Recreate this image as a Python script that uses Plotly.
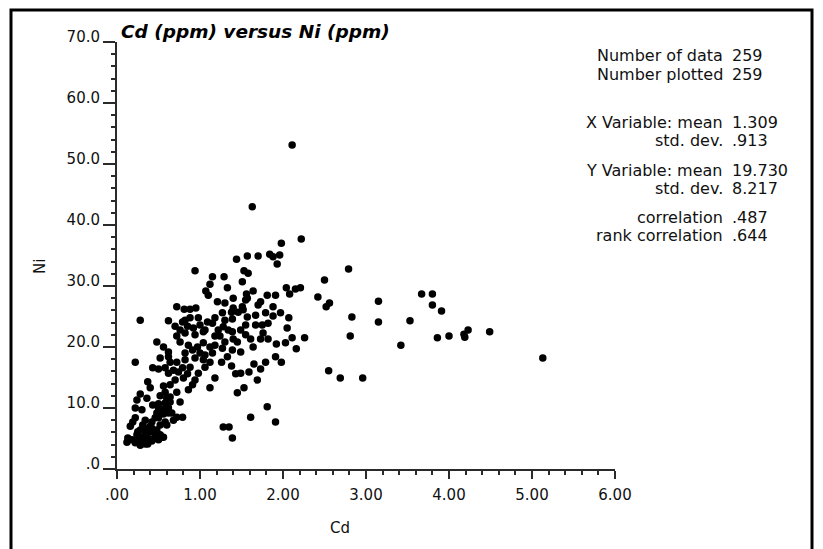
import plotly.graph_objects as go

# ---- data (Cd ppm, Ni ppm) ----
CD = [
    2.11, 1.63, 2.22, 1.98, 1.44, 1.57, 1.70, 1.84, 1.88, 1.96, 1.93,
    0.94, 1.53, 1.58, 1.51, 1.15, 1.29, 1.12, 1.07, 1.10, 1.33, 1.64, 1.56, 1.57, 2.04, 2.15, 2.21, 2.08,
    1.81, 1.91, 1.40, 1.21, 1.30, 1.73, 1.70, 1.88, 2.50, 2.79, 2.42, 2.56, 2.52, 3.15, 3.67, 3.80, 3.80, 3.91,
    0.72, 0.81, 0.88, 0.95, 0.28, 0.62, 0.82, 0.70, 0.76, 0.85, 0.92, 1.00, 1.09, 1.15, 1.40, 1.51, 1.52,
    1.27, 1.38, 1.46, 1.79, 1.97, 1.39, 1.57, 1.88, 2.07, 2.83,
    1.28, 1.55, 1.82, 1.22, 1.34, 1.39, 2.05, 1.24, 1.55, 1.76, 0.72, 0.82, 0.94, 1.04, 0.48, 0.56, 0.62,
    0.76, 0.86, 0.97, 1.04, 1.12, 1.40, 1.45, 1.61, 1.73, 1.82, 2.11, 2.26, 2.03, 1.27, 1.39, 1.64, 2.16,
    1.92, 2.81, 3.15, 3.53, 4.23, 4.18, 4.19, 4.49, 4.00, 3.86, 3.42,
    0.52, 0.82, 1.00, 1.15, 0.22, 0.62, 0.72, 0.82, 0.94, 1.04, 1.12, 1.26, 1.38, 1.43, 1.49, 1.59, 1.65,
    1.73, 1.79, 1.91, 1.98, 0.43, 0.50, 0.58, 0.68, 0.79, 0.88, 0.98, 0.85, 0.62, 0.80, 0.70, 0.37, 1.18,
    1.69, 2.55, 2.69, 2.96, 5.13,
    0.40, 0.56, 0.91, 1.12, 0.28, 0.58, 0.72, 0.24, 0.36, 0.60, 0.76, 0.50, 0.58, 0.64, 0.22, 0.50, 0.56,
    0.62, 0.48, 0.56, 0.66, 0.72, 0.79, 0.50, 0.58, 0.68, 0.22, 0.19, 0.16, 0.42, 0.52, 0.60, 0.31, 0.36,
    0.42, 0.48, 0.28, 0.34, 0.40, 0.46, 0.52, 0.56, 0.13, 0.24, 0.30, 0.37, 0.43, 0.54, 0.25, 0.34, 0.42,
    0.50, 0.28, 0.34,
    1.53, 1.45, 1.81, 1.61, 1.91, 1.28, 1.35, 1.39,
    0.18, 0.22, 0.31, 0.37, 0.46, 0.40, 0.34, 0.46, 0.52, 0.62, 0.64, 0.52, 0.43, 0.30, 0.25, 0.12,
    0.88, 0.98, 1.06, 1.18, 1.30, 1.49, 1.18, 1.06, 0.91, 1.49, 1.33, 1.67, 1.75, 0.64, 0.74, 1.06,
    0.94, 0.86, 0.64, 1.55, 1.67, 0.79, 1.18, 1.30,
]
NI = [
    53.1, 43.0, 37.7, 37.0, 34.4, 34.9, 34.9, 35.2, 34.8, 35.1, 33.6,
    32.5, 32.5, 32.1, 30.7, 31.5, 31.5, 30.3, 29.2, 28.5, 29.7, 29.2, 28.7, 28.0, 29.7, 29.5, 29.7, 28.7,
    28.5, 28.5, 28.0, 27.4, 27.2, 27.4, 26.9, 26.6, 31.0, 32.8, 28.2, 27.2, 26.6, 27.5, 28.7, 28.7, 26.9, 25.9,
    26.6, 26.2, 26.2, 26.4, 24.4, 24.3, 24.4, 23.4, 22.8, 23.4, 23.1, 23.6, 24.1, 23.9, 26.4, 26.6, 26.1,
    25.6, 25.7, 25.7, 25.6, 25.6, 24.6, 24.9, 25.1, 24.8, 24.9,
    23.3, 23.6, 23.9, 22.8, 22.8, 22.5, 23.1, 21.8, 22.0, 22.3, 21.8, 22.3, 22.0, 22.5, 20.8, 20.0, 19.2,
    20.8, 20.3, 20.0, 20.7, 20.0, 21.3, 20.8, 21.3, 21.3, 21.3, 21.5, 21.5, 20.7, 19.8, 19.5, 20.0, 19.7,
    20.5, 21.8, 24.1, 24.3, 22.8, 22.1, 21.6, 22.5, 21.8, 21.5, 20.3,
    18.2, 19.0, 19.0, 19.0, 17.5, 18.4, 17.5, 17.9, 18.2, 17.9, 17.5, 17.5, 16.9, 15.6, 15.7, 15.9, 17.2,
    16.4, 17.5, 18.4, 17.5, 16.6, 16.4, 16.6, 16.2, 16.6, 16.7, 15.7, 15.6, 15.7, 14.9, 14.6, 14.3, 14.9,
    14.6, 16.1, 14.9, 14.9, 18.2,
    13.3, 13.6, 13.8, 13.3, 12.3, 12.6, 12.6, 11.3, 11.6, 11.6, 11.0, 10.7, 10.8, 11.0, 10.0, 10.0, 9.8,
    10.0, 9.2, 9.0, 9.2, 8.5, 8.5, 8.4, 7.7, 8.0, 8.4, 7.7, 7.0, 7.7, 7.2, 7.2, 7.2, 6.7,
    6.7, 6.4, 6.4, 6.1, 6.1, 5.9, 5.6, 5.2, 5.1, 5.6, 5.2, 5.1, 4.9, 5.2, 4.6, 4.4, 4.6,
    4.8, 3.9, 4.1,
    13.3, 12.5, 10.2, 8.5, 7.7, 6.9, 6.9, 5.1,
    4.8, 4.3, 4.9, 4.1, 5.2, 7.0, 8.0, 8.4, 9.3, 9.2, 11.8, 12.0, 10.5, 9.7, 6.1, 4.4,
    24.8, 24.8, 22.8, 21.8, 20.8, 22.8, 20.3, 18.7, 19.5, 19.2, 18.4, 23.6, 23.6, 17.5, 15.9, 16.7,
    14.6, 13.0, 13.8, 27.7, 25.2, 24.1, 24.8, 24.4,
]

X_TICK_LABELS = [".00", "1.00", "2.00", "3.00", "4.00", "5.00", "6.00"]
Y_TICK_LABELS = [".0", "10.0", "20.0", "30.0", "40.0", "50.0", "60.0", "70.0"]

TITLE = "Cd (ppm) versus Ni (ppm)"
X_TITLE = "Cd"
Y_TITLE = "Ni"

STAT_LABELS = ["Number of data", "Number plotted", "X Variable: mean", "std. dev.",
               "Y Variable: mean", "std. dev.", "correlation", "rank correlation"]
STAT_VALUES = ["259", "259", "1.309", ".913", "19.730", "8.217", ".487", ".644"]

# ---- layout geometry (pixels) ----
W, H = 823, 549
PL, PR, PT, PB = 117, 615, 42, 469
STAT_ROWS_PX = [55, 75, 122, 140, 170, 188, 217, 236]
STAT_LABEL_RIGHT_PX = 725
STAT_VALUE_LEFT_PX = 730


def px_x(px):
    return (px - PL) / (PR - PL)


def px_y(py):
    return (PB - py) / (PB - PT)


FONT = "DejaVu Sans, Liberation Sans, Arial, sans-serif"
INK = "#111111"
AXIS = "#2a2a2a"

fig = go.Figure()
fig.add_trace(go.Scatter(
    x=CD, y=NI, mode="markers",
    marker=dict(size=7.5, color="black", line=dict(width=0)),
    hoverinfo="skip", showlegend=False,
))

fig.update_layout(
    width=W, height=H, autosize=False,
    margin=dict(l=PL, r=W - PR, t=PT, b=H - PB, pad=0),
    paper_bgcolor="white", plot_bgcolor="white",
    font=dict(family=FONT, size=15, color=INK),
    showlegend=False,
)

fig.update_xaxes(
    range=[0, 6], showgrid=False, zeroline=False,
    showline=True, linewidth=2, linecolor=AXIS,
    tickmode="array", tickvals=[float(t) for t in X_TICK_LABELS], ticktext=X_TICK_LABELS,
    ticks="outside", ticklen=8, tickwidth=1.5, tickcolor=AXIS,
    tickfont=dict(family=FONT, size=15, color=INK), ticklabelstandoff=3,
    minor=dict(tickmode="linear", tick0=0, dtick=0.2, ticks="outside", ticklen=4,
               tickwidth=1.5, tickcolor=AXIS, showgrid=False),
)
fig.update_yaxes(
    range=[0, 70], showgrid=False, zeroline=False,
    showline=True, linewidth=2, linecolor=AXIS,
    tickmode="array", tickvals=[float(t) for t in Y_TICK_LABELS], ticktext=Y_TICK_LABELS,
    ticks="outside", ticklen=12, tickwidth=1.5, tickcolor=AXIS,
    tickfont=dict(family=FONT, size=15, color=INK), ticklabelshift=-5,
    minor=dict(tickmode="linear", tick0=0, dtick=2, ticks="outside", ticklen=4,
               tickwidth=1.5, tickcolor=AXIS, showgrid=False),
)

annotations = [
    dict(text="<b><i>" + TITLE + "</i></b>", x=px_x(119), y=px_y(32),
         xanchor="left", yanchor="middle", font=dict(family=FONT, size=18.5, color="black")),
    dict(text=X_TITLE, x=px_x(340), y=px_y(528), xanchor="center", yanchor="middle",
         font=dict(family=FONT, size=15, color=INK)),
    dict(text=Y_TITLE, x=px_x(40), y=px_y(267), xanchor="center", yanchor="middle",
         textangle=-90, font=dict(family=FONT, size=15, color=INK)),
]
for lab, val, py in zip(STAT_LABELS, STAT_VALUES, STAT_ROWS_PX):
    annotations.append(dict(text=lab, x=px_x(STAT_LABEL_RIGHT_PX), y=px_y(py),
                            xanchor="right", yanchor="middle",
                            font=dict(family=FONT, size=16, color=INK)))
    annotations.append(dict(text=val, x=px_x(STAT_VALUE_LEFT_PX), y=px_y(py),
                            xanchor="left", yanchor="middle",
                            font=dict(family=FONT, size=16, color=INK)))
for a in annotations:
    a.update(xref="paper", yref="paper", showarrow=False)
fig.update_layout(annotations=annotations)

# outer frame (open at the bottom edge of the picture)
fig.add_shape(type="rect", xref="paper", yref="paper",
              x0=px_x(11), y0=px_y(575), x1=px_x(812), y1=px_y(10),
              line=dict(color="black", width=3), fillcolor="rgba(0,0,0,0)", layer="above")

fig.write_html("out.html")
